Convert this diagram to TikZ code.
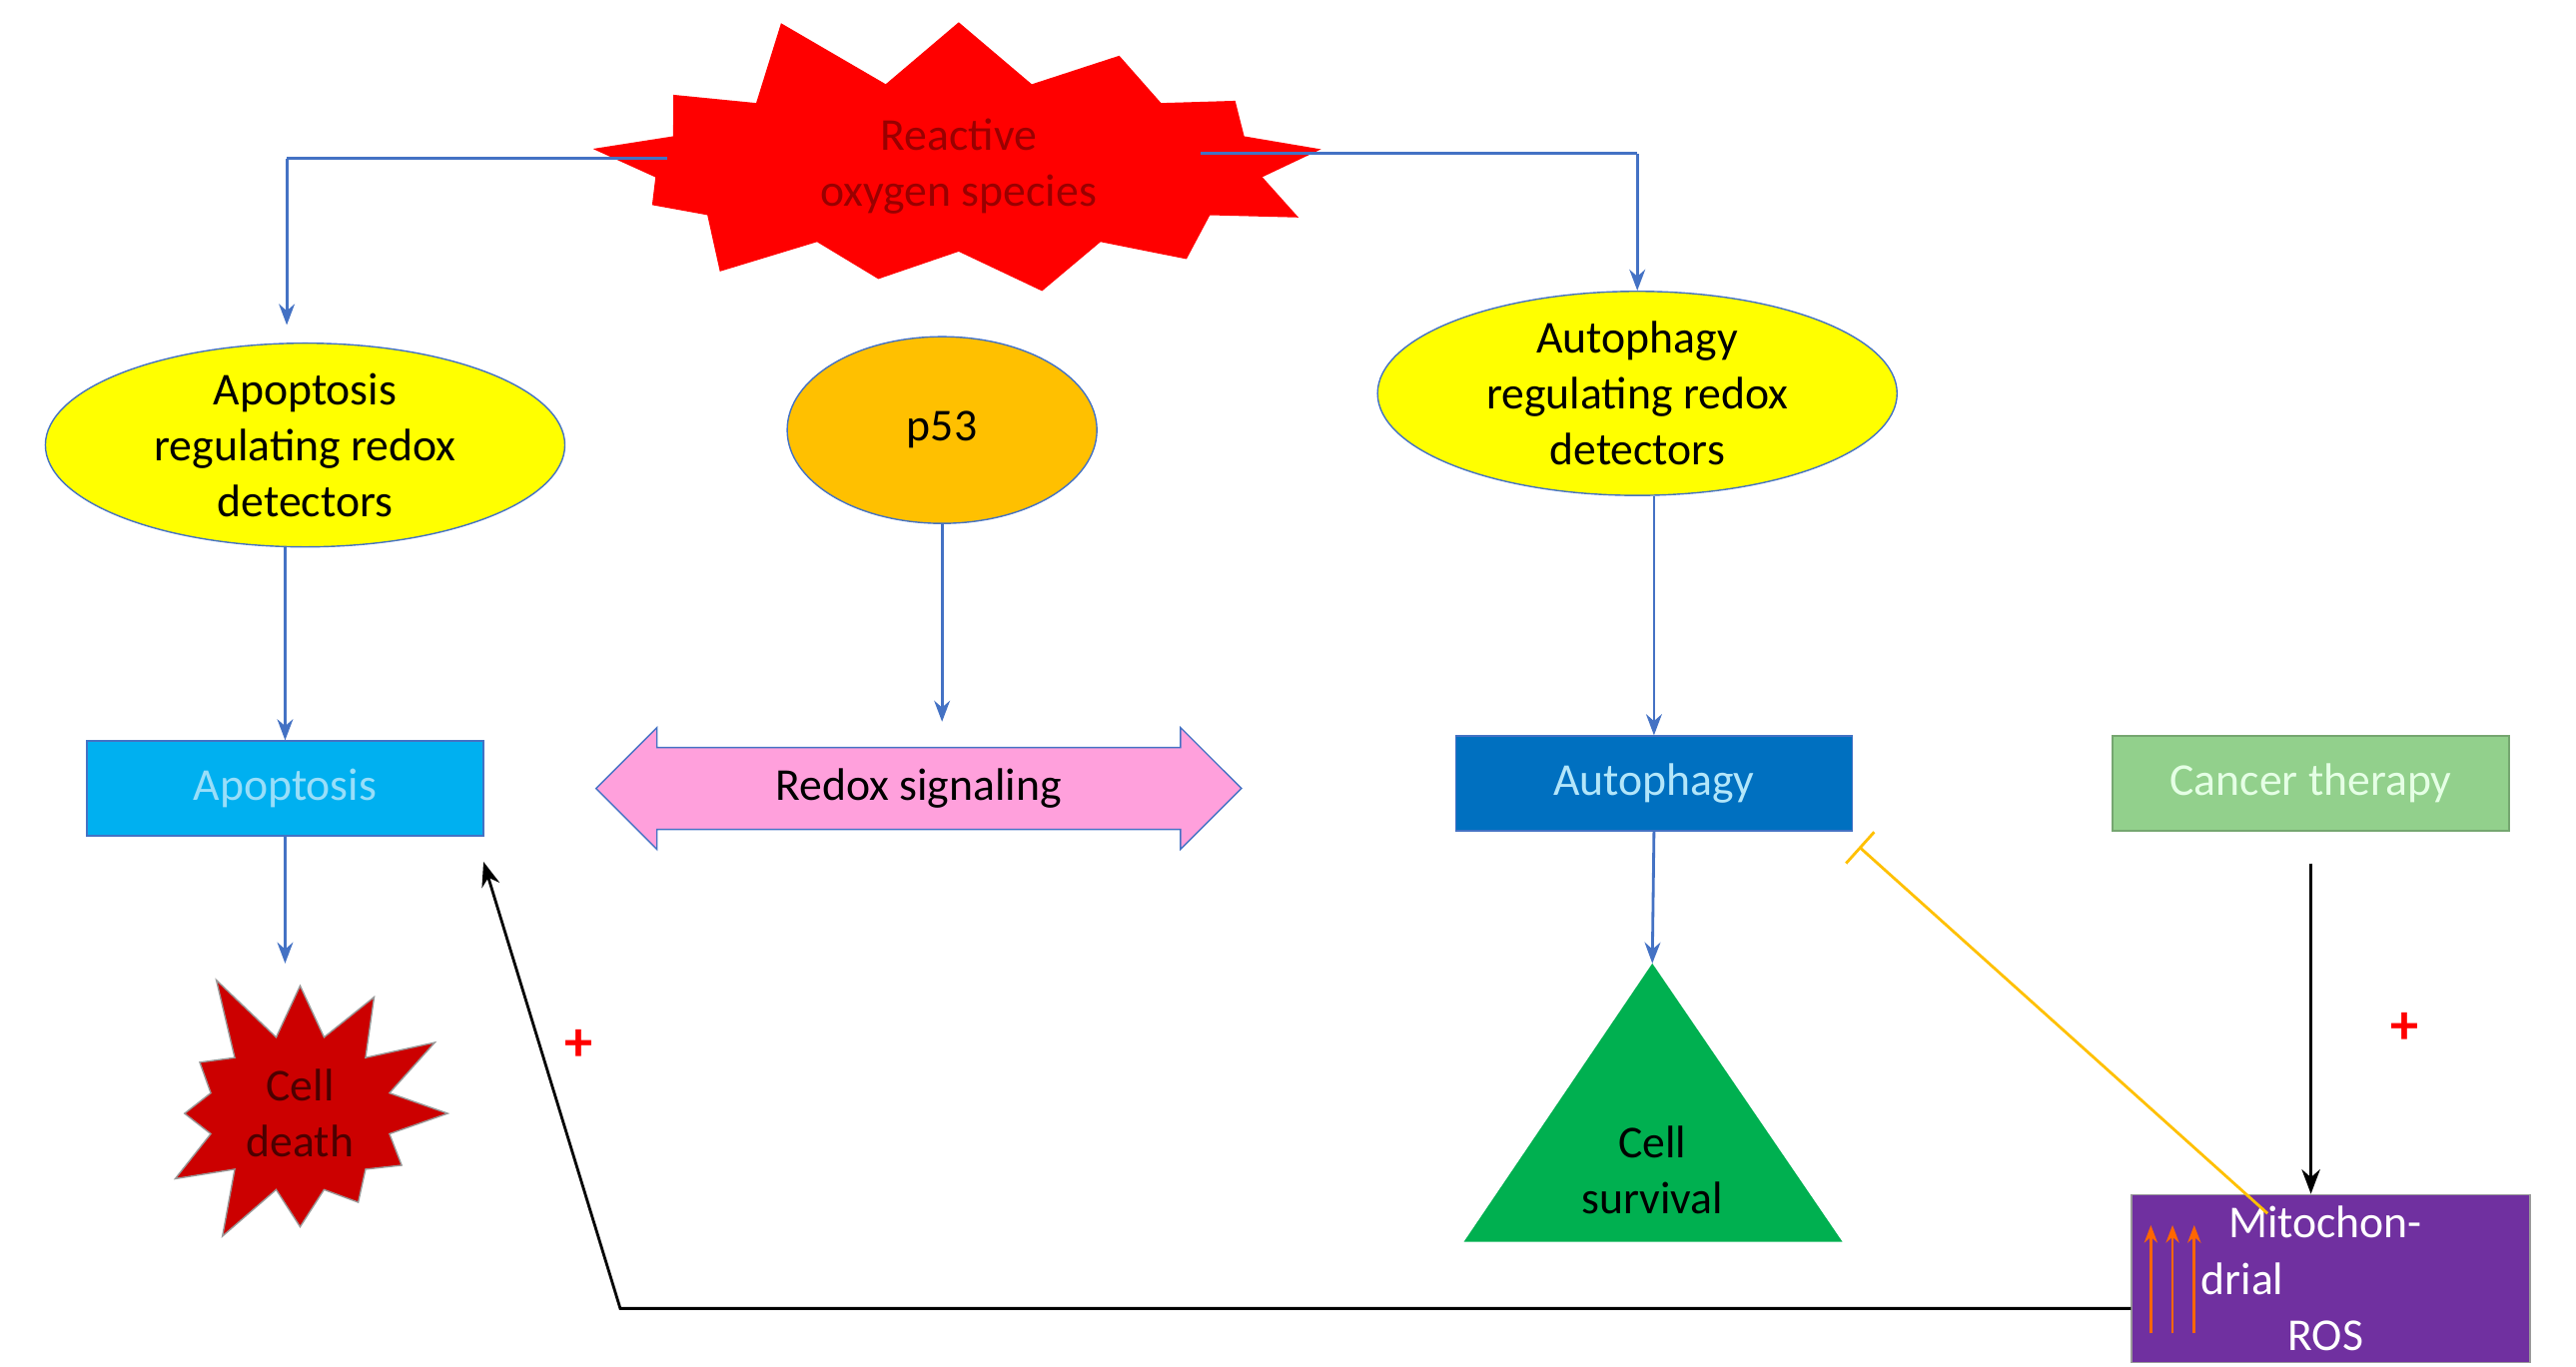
\documentclass[tikz,border=0pt]{standalone}
\usepackage{fontspec}
\setmainfont{Carlito}
\usetikzlibrary{shapes.geometric, shapes.symbols, shapes.arrows, arrows.meta, positioning}
\definecolor{rosred}{RGB}{255, 0, 0}
\definecolor{detyellow}{RGB}{255, 255, 0}
\definecolor{porange}{RGB}{255, 192, 0}
\definecolor{apoblue}{RGB}{0, 176, 240}
\definecolor{autoblue}{RGB}{0, 112, 192}
\definecolor{therapygreen}{RGB}{146, 208, 140}
\definecolor{survgreen}{RGB}{0, 176, 80}
\definecolor{mitopurple}{RGB}{112, 48, 160}
\definecolor{redoxpink}{RGB}{255, 160, 220}
\definecolor{linkblue}{RGB}{68, 114, 196}
\begin{document}
\begin{tikzpicture}[x=0.1669mm, y=-0.1669mm,
    every node/.style={font=\fontsize{13}{16}\selectfont, align=center},
    detector/.style={ellipse, draw=linkblue, fill=detyellow, minimum width=5.2cm, minimum height=1.97cm, inner sep=0pt},
    process/.style={draw=linkblue, minimum width=3.97cm, minimum height=0.95cm},
    burst/.style={starburst, draw=rosred, starburst points=13, starburst point height=0.8cm},
    link/.style={-{Stealth[length=6pt]}, draw=linkblue, thick},
    plus/.style={text=rosred, font=\fontsize{16}{18}\selectfont\bfseries}
]
\useasboundingbox (0,0) rectangle (1545,820);

% Top
\node[burst, fill=rosred, text=black!40!red, minimum width=7.7cm, minimum height=2.85cm, random starburst=11] (ros) at (575,100) {Reactive\\oxygen species};

% Detectors
\node[detector] (apodet) at (183,267) {Apoptosis\\regulating redox\\detectors};
\node[ellipse, draw=linkblue, fill=porange, minimum width=3.1cm, minimum height=1.87cm] (p53) at (565,258) {p53};
\node[detector] (autodet) at (982,236) {Autophagy\\regulating redox\\detectors};

% Processes
\node[process, fill=apoblue, text=cyan!40!white] (apo) at (171,473) {Apoptosis};
\node[double arrow, draw=linkblue, fill=redoxpink, minimum width=1.22cm, minimum height=6.46cm, double arrow head extend=0.1cm, shape border rotate=0, inner sep=0pt] (redox) at (551,473) {Redox signaling};
\node[process, fill=autoblue, text=cyan!30!white] (auto) at (992,470) {Autophagy};
\node[process, draw=therapygreen!80!black, fill=therapygreen, text=white!90!green] (therapy) at (1386,470) {Cancer therapy};

% Outcomes
\node[burst, draw=black!40, fill=black!20!red, starburst points=12, minimum width=3.25cm, minimum height=3.1cm, random starburst=5, text=black!70!red] (death) at (180,668) {Cell\\death};
\fill[survgreen] (991,578) -- (1105,745) -- (878,745) -- cycle;
\coordinate (survtop) at (991,578);
\node (survival) at (991,702) {Cell\\survival};
\node[draw=black!40, fill=mitopurple, text=white, minimum width=3.99cm, minimum height=1.25cm, align=left, text width=2.6cm] (mito) at (1398,767) {\hspace*{0.6em}Mitochondrial\\\hspace*{1.9em}ROS};
\foreach \x in {1290,1303,1316}
  \draw[-{Stealth[length=5pt]}, orange!80!red, thick] (\x,800) -- (\x,735);

% Connectors
\coordinate (lcorner) at (172,95);
\coordinate (rcorner) at (982,92);
\draw[linkblue, thick] (400,95) -- (lcorner);
\draw[link] (lcorner) -- (172,195);
\draw[linkblue, thick] (720,92) -- (rcorner);
\draw[link] (rcorner) -- (autodet.north);
\draw[link] (apodet.south -| apo.north) -- (apo.north);
\draw[link] (p53.south) -- (565,433);
\draw[link] (auto.north |- autodet.south) -- (auto.north);
\draw[link] (apo.south) -- (apo.south |- 0,578);
\draw[link] (auto.south) -- (survtop);
\draw[-{Stealth[length=7pt]}, thick] (therapy.south |- 0,518) -- (mito.north -| therapy.south);
\node[plus] (plusr) at (1442,617) {+};
\draw[-{Bar[width=12pt]}, porange, thick] (1360,728) -- (1115,508);
\coordinate (bend) at (372,785);
\draw[-{Stealth[length=7pt]}, thick] (mito.west |- bend) -- (bend) -- (290,517);
\node[plus] (plusl) at (347,627) {+};
\end{tikzpicture}
\end{document}
